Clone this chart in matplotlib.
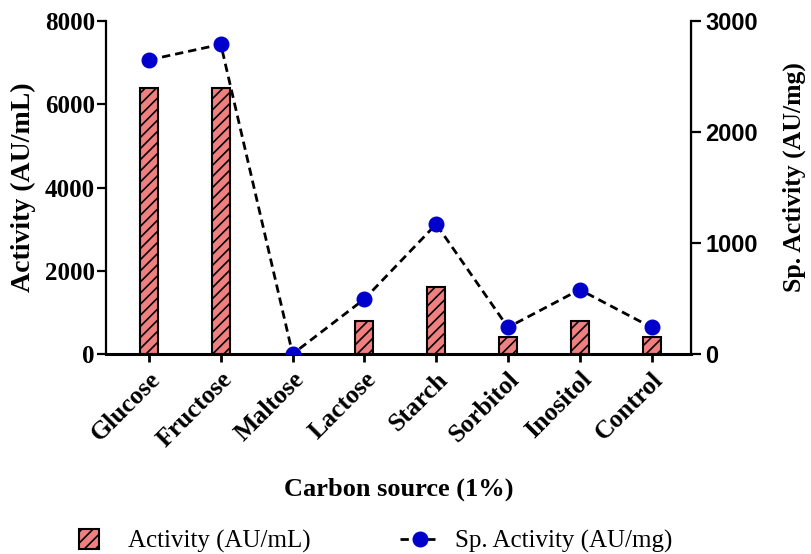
import numpy as np
import matplotlib
matplotlib.use("Agg")
import matplotlib.pyplot as plt
from matplotlib.patches import Rectangle
from matplotlib.legend_handler import HandlerPatch

# carbon sources tested (1 %) and measured activities
sources = ['Glucose', 'Fructose', 'Maltose', 'Lactose', 'Starch', 'Sorbitol', 'Inositol', 'Control']
activity = [6400, 6400, 0, 800, 1600, 400, 800, 400]          # AU/mL
sp_activity = [2650, 2790, 0, 495, 1170, 240, 580, 240]      # AU/mg

SERIF = 'Liberation Serif'
SANS = 'Liberation Sans'

plt.rcParams['hatch.linewidth'] = 1.2

fig = plt.figure(figsize=(8.12, 5.54), dpi=100)
ax = fig.add_axes([0.1305, 0.361, 0.7205, 0.601])
ax2 = ax.twinx()

x = np.arange(len(sources))
bars = ax.bar(x, activity, width=0.25, color='#f08080', edgecolor='black',
              linewidth=1.5, hatch='///', zorder=2)
line, = ax2.plot(x, sp_activity, color='black', lw=2, dashes=(3, 1.8),
                 marker='o', ms=10.5, mfc='#0000cc', mec='#0000cc', zorder=3)

ax.set_xlim(-0.6, 7.55)
ax.set_ylim(0, 8000)
ax2.set_ylim(0, 3000)
ax.set_yticks([0, 2000, 4000, 6000, 8000])
ax2.set_yticks([0, 1000, 2000, 3000])
ax.set_xticks(x)
ax.set_xticklabels(sources, rotation=45, ha='right', rotation_mode='anchor',
                   fontfamily=SERIF, fontweight='bold', fontsize=18.5)

for a in (ax, ax2):
    a.spines['top'].set_visible(False)
ax.spines['left'].set_linewidth(1.6)
ax2.spines['right'].set_linewidth(1.6)
ax.spines['bottom'].set_linewidth(2.2)
ax2.spines['left'].set_visible(False)
ax2.spines['bottom'].set_visible(False)

ax.tick_params(axis='y', length=6.5, width=1.6, pad=1.5, direction='out')
ax.tick_params(axis='x', length=6, width=2, pad=4, direction='out')
ax2.tick_params(axis='y', length=7, width=1.6, pad=3.5, direction='out')

for lab in ax.get_yticklabels():
    lab.set_fontfamily(SERIF)
    lab.set_fontweight('bold')
    lab.set_fontsize(18)
for lab in ax2.get_yticklabels():
    lab.set_fontfamily(SANS)
    lab.set_fontweight('bold')
    lab.set_fontsize(17)

ax.set_ylabel('Activity (AU/mL)', fontfamily=SERIF, fontweight='bold', fontsize=20)
ax.yaxis.set_label_coords(-0.12, 0.5)
ax2.set_ylabel('Sp. Activity (AU/mg)', fontfamily=SERIF, fontweight='bold', fontsize=18.5)
ax2.yaxis.set_label_coords(1.156, 0.53)
ax.set_xlabel('Carbon source (1%)', fontfamily=SERIF, fontweight='bold', fontsize=19)
ax.xaxis.set_label_coords(0.5, -0.37)


def square_patch(legend, orig_handle, xdescent, ydescent, width, height, fontsize):
    # small square swatch on the left part of the handle box
    side = height * 1.15
    return Rectangle((xdescent + 0.15 * width, ydescent - (side - height) / 2), side, side)


fig.legend([bars.patches[0], line], ['Activity (AU/mL)', 'Sp. Activity (AU/mg)'],
           loc='center', bbox_to_anchor=(0.459, 0.022), ncol=2,
           frameon=False, prop={'family': SERIF, 'size': 18}, handlelength=1.6,
           handletextpad=0.6, columnspacing=3.6, numpoints=1,
           handler_map={Rectangle: HandlerPatch(patch_func=square_patch)})

fig.savefig('out.png', dpi=100)
